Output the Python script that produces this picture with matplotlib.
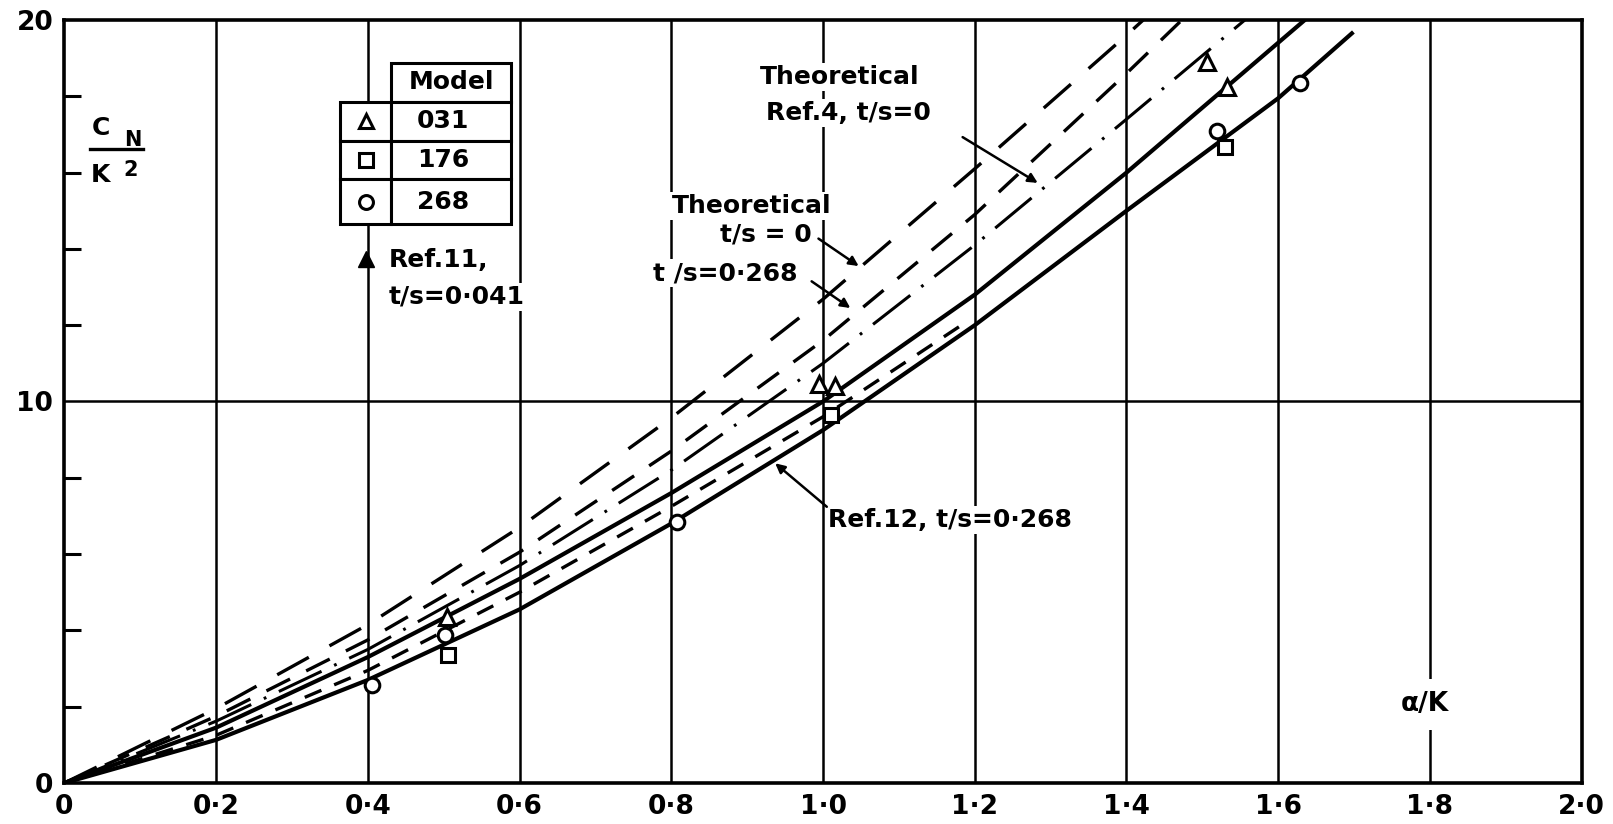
import matplotlib
matplotlib.use('Agg')
import matplotlib.pyplot as plt
from matplotlib.patches import Rectangle

plt.rcParams['font.family'] = ['DejaVu Sans']
plt.rcParams['font.weight'] = 'bold'
plt.rcParams['lines.scale_dashes'] = False

# ---------------- data ----------------
x_ticks = [0, 0.2, 0.4, 0.6, 0.8, 1.0, 1.2, 1.4, 1.6, 1.8, 2.0]
x_labels = ['0', '0·2', '0·4', '0·6', '0·8', '1·0', '1·2', '1·4', '1·6', '1·8', '2·0']
y_ticks = [0, 10, 20]
y_labels = ['0', '10', '20']
y_minor = [2, 4, 6, 8, 12, 14, 16, 18]

# Theoretical t/s = 0 (long dashes)
xA = [0, 0.2, 0.4, 0.6, 0.8, 1.0, 1.2, 1.4, 1.422]
yA = [0, 1.95, 4.15, 6.7, 9.57, 12.68, 16.1, 19.6, 20.0]
# Theoretical t/s = 0.268 (dashes)
xB = [0, 0.2, 0.4, 0.6, 0.8, 1.0, 1.2, 1.4, 1.473]
yB = [0, 1.75, 3.75, 6.05, 8.7, 11.6, 14.9, 18.6, 20.0]
# Theoretical Ref.4, t/s = 0 (dash-dot)
xC = [0, 0.2, 0.4, 0.6, 0.8, 1.0, 1.2, 1.4, 1.556]
yC = [0, 1.62, 3.5, 5.7, 8.2, 11.0, 14.1, 17.4, 20.0]
# upper solid
xD = [0, 0.2, 0.4, 0.6, 0.8, 1.0, 1.2, 1.4, 1.635]
yD = [0, 1.45, 3.3, 5.35, 7.6, 10.0, 12.8, 16.0, 20.0]
# short dashes
xE = [0, 0.2, 0.4, 0.6, 0.8, 1.0, 1.19]
yE = [0, 1.25, 2.95, 5.0, 7.25, 9.6, 12.1]
# Ref.12, t/s = 0.268 (lower solid)
xF = [0, 0.2, 0.4, 0.6, 0.8, 1.0, 1.2, 1.4, 1.6, 1.697]
yF = [0, 1.13, 2.7, 4.55, 6.8, 9.25, 12.0, 15.0, 17.95, 19.65]

# experimental points
tri_x = [0.504, 0.995, 1.016, 1.506, 1.532]
tri_y = [4.36, 10.45, 10.4, 18.9, 18.25]
sq_x = [0.506, 1.011, 1.53]
sq_y = [3.36, 9.65, 16.68]
circ_x = [0.405, 0.502, 0.807, 1.519, 1.629]
circ_y = [2.57, 3.88, 6.85, 17.1, 18.34]
ref11_x = [0.398]
ref11_y = [13.73]

models = ['031', '176', '268']
model_markers = ['^', 's', 'o']

# ---------------- figure ----------------
fig = plt.figure(figsize=(16.13, 8.24), dpi=100)
ax = fig.add_axes([0.03986, 0.04976, 0.94075, 0.92597])
ax.set_xlim(0, 2)
ax.set_ylim(0, 20)

for s in ax.spines.values():
    s.set_linewidth(2.6)
    s.set_zorder(6)

for gx in x_ticks[1:-1]:
    ax.axvline(gx, color='k', lw=1.8, zorder=1)
ax.axhline(10, color='k', lw=1.8, zorder=1)

ax.set_xticks(x_ticks)
ax.set_xticklabels(x_labels, fontsize=19, fontweight='bold')
ax.set_yticks(y_ticks)
ax.set_yticklabels(y_labels, fontsize=19, fontweight='bold')
ax.set_yticks(y_minor, minor=True)
ax.tick_params(axis='x', length=0, pad=8)
ax.tick_params(axis='y', which='major', length=0, pad=8)
ax.tick_params(axis='y', which='minor', direction='in', length=12, width=2.2)

# curves
ax.plot(xA, yA, color='k', lw=2.4, dashes=(26, 17), zorder=3)
ax.plot(xB, yB, color='k', lw=2.4, dashes=(19, 13), zorder=3)
ax.plot(xC, yC, color='k', lw=2.2, dashes=(34, 10, 2, 10), zorder=3)
ax.plot(xD, yD, color='k', lw=3.0, zorder=3)
ax.plot(xE, yE, color='k', lw=2.4, dashes=(13, 10), zorder=3)
ax.plot(xF, yF, color='k', lw=3.0, zorder=3)

mk = dict(linestyle='none', markerfacecolor='white', markeredgecolor='k',
          markeredgewidth=2.2, zorder=4)
ax.plot(tri_x, tri_y, marker='^', markersize=12, **mk)
ax.plot(sq_x, sq_y, marker='s', markersize=10.5, **mk)
ax.plot(circ_x, circ_y, marker='o', markersize=10.5, **mk)
ax.plot(ref11_x, ref11_y, marker='^', markersize=12, color='k',
        linestyle='none', zorder=4)

# ---------------- table ----------------
tl, tm, tr = 0.3634, 0.4306, 0.5888
rows = [18.87, 17.86, 16.83, 15.82, 14.65]
ax.add_patch(Rectangle((tm, rows[1]), tr - tm, rows[0] - rows[1], facecolor='white',
                       edgecolor='k', lw=2.2, zorder=5))
ax.text((tm + tr) / 2, (rows[0] + rows[1]) / 2, 'Model', ha='center', va='center',
        fontsize=18, zorder=6)
for i, (name, m) in enumerate(zip(models, model_markers)):
    top, bot = rows[i + 1], rows[i + 2]
    ax.add_patch(Rectangle((tl, bot), tm - tl, top - bot, facecolor='white',
                           edgecolor='k', lw=2.2, zorder=5))
    ax.add_patch(Rectangle((tm, bot), tr - tm, top - bot, facecolor='white',
                           edgecolor='k', lw=2.2, zorder=5))
    ax.plot([(tl + tm) / 2], [(top + bot) / 2], marker=m, markersize=10,
            markerfacecolor='white', markeredgecolor='k', markeredgewidth=2.2,
            linestyle='none', zorder=6)
    ax.text((tm + tr) / 2 - 0.01, (top + bot) / 2, name, ha='center', va='center',
            fontsize=18, zorder=6)

# ---------------- labels ----------------
bb = dict(facecolor='white', edgecolor='none', pad=1.5)
ax.text(0.428, 13.71, 'Ref.11,', ha='left', va='center', fontsize=18, zorder=2.5, bbox=bb)
ax.text(0.428, 12.75, 't/s=0·041', ha='left', va='center', fontsize=18, zorder=2.5, bbox=bb)

ax.text(1.022, 18.5, 'Theoretical', ha='center', va='center', fontsize=18, zorder=2.5, bbox=bb)
ax.text(1.034, 17.56, 'Ref.4, t/s=0', ha='center', va='center', fontsize=18, zorder=2.5, bbox=bb)
ax.text(0.906, 15.12, 'Theoretical', ha='center', va='center', fontsize=18, zorder=2.5, bbox=bb)
ax.text(0.925, 14.38, 't/s = 0', ha='center', va='center', fontsize=18, zorder=2.5, bbox=bb)
ax.text(0.776, 13.36, 't /s=0·268', ha='left', va='center', fontsize=18, zorder=2.5, bbox=bb)
ax.text(1.007, 6.9, 'Ref.12, t/s=0·268', ha='left', va='center', fontsize=18, zorder=2.5, bbox=bb)
ax.text(1.793, 2.06, 'α/K', ha='center', va='center', fontsize=19, zorder=2.5,
        bbox=dict(facecolor='white', edgecolor='none', pad=9))

ap = dict(arrowstyle='-|>', color='k', lw=1.8, mutation_scale=14, shrinkA=0, shrinkB=0)
ax.annotate('', xy=(1.283, 15.73), xytext=(1.184, 16.93), arrowprops=ap, zorder=4)
ax.annotate('', xy=(1.047, 13.55), xytext=(0.994, 14.27), arrowprops=ap, zorder=4)
ax.annotate('', xy=(1.036, 12.45), xytext=(0.985, 13.15), arrowprops=ap, zorder=4)
ax.annotate('', xy=(0.937, 8.38), xytext=(1.005, 7.24), arrowprops=ap, zorder=4)

# y-axis label  C_N / K^2
ax.text(0.048, 17.17, 'C', ha='center', va='center', fontsize=18, zorder=2.5)
ax.text(0.0906, 16.85, 'N', ha='center', va='center', fontsize=15, zorder=2.5)
ax.plot([0.034, 0.104], [16.62, 16.62], color='k', lw=2.4, zorder=2.5)
ax.text(0.048, 15.95, 'K', ha='center', va='center', fontsize=18, zorder=2.5)
ax.text(0.0876, 16.08, '2', ha='center', va='center', fontsize=15, zorder=2.5)

fig.savefig('out.png', dpi=100, facecolor='white')
